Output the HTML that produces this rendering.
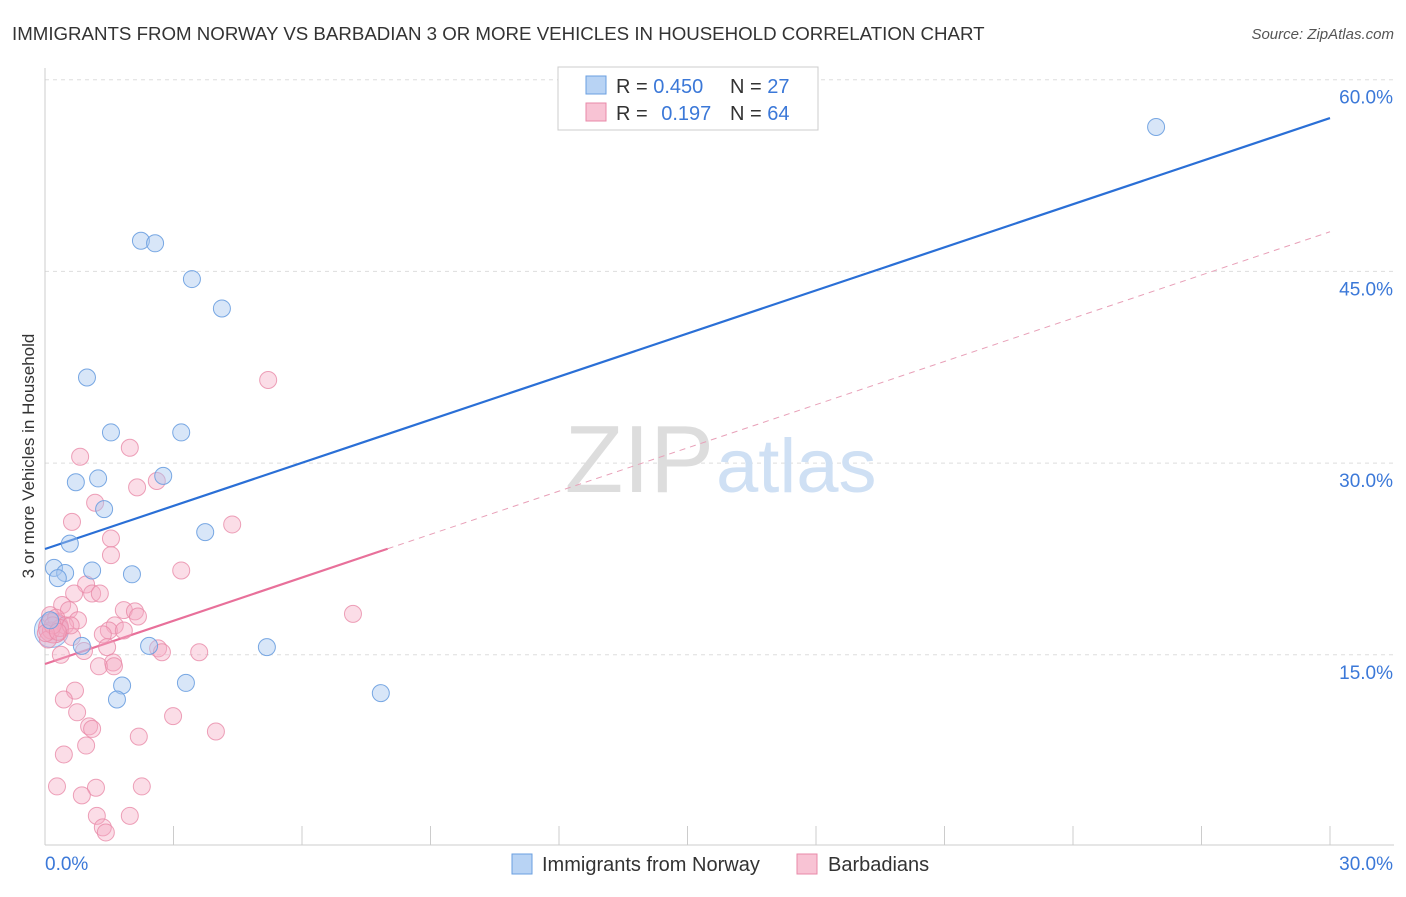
<!DOCTYPE html>
<html><head><meta charset="utf-8"><style>
body{margin:0;background:#fff;font-family:"Liberation Sans",sans-serif;}
svg text{font-family:"Liberation Sans",sans-serif;}
</style></head><body>
<svg width="1406" height="892" viewBox="0 0 1406 892">
<text x="12" y="40" font-size="18.7" fill="#333">IMMIGRANTS FROM NORWAY VS BARBADIAN 3 OR MORE VEHICLES IN HOUSEHOLD CORRELATION CHART</text>
<text x="1394" y="39" font-size="15" fill="#555" font-style="italic" text-anchor="end">Source: ZipAtlas.com</text>
<text transform="translate(34,456) rotate(-90)" font-size="17" fill="#333" text-anchor="middle">3 or more Vehicles in Household</text>
<g id="grid"></g>
<g id="ticks"></g>
<text x="714" y="492" font-size="96" fill="#ddd" text-anchor="end" font-family="Liberation Serif">ZIP</text>
<text x="716" y="492" font-size="76" fill="#cfe0f4">atlas</text>
<g id="lines"></g>
<g id="pts"></g>
<g>
<rect x="558" y="67" width="260" height="63" fill="#fff" stroke="#ccc"/>
<rect x="586" y="76" width="20" height="18" fill="#b8d3f4" stroke="#6a9fe0"/>
<rect x="586" y="103" width="20" height="18" fill="#f8c3d4" stroke="#e88aa8"/>
<text x="616" y="93" font-size="20" fill="#333">R = <tspan fill="#3b78d8">0.450</tspan></text>
<text x="730" y="93" font-size="20" fill="#333">N = <tspan fill="#3b78d8">27</tspan></text>
<text x="616" y="120" font-size="20" fill="#333">R = <tspan fill="#3b78d8" dx="8">0.197</tspan></text>
<text x="730" y="120" font-size="20" fill="#333">N = <tspan fill="#3b78d8">64</tspan></text>
</g>
<g>
<rect x="512" y="854" width="20" height="20" fill="#b8d3f4" stroke="#6a9fe0"/>
<text x="542" y="871" font-size="20" fill="#333">Immigrants from Norway</text>
<rect x="797" y="854" width="20" height="20" fill="#f8c3d4" stroke="#e88aa8"/>
<text x="828" y="871" font-size="20" fill="#333">Barbadians</text>
</g>
</svg>
<script>
const yTicks=[15,30,45,60];
const xTickLabels=["0.0%","30.0%"];
const blueX=[25.94,2.24,2.57,3.43,4.13,0.98,1.54,3.18,0.72,1.24,2.76,1.38,0.58,3.74,0.21,0.47,1.10,2.03,0.30,0.12,0.86,2.43,5.18,1.80,3.29,1.68,7.84];
const blueY=[56.3,47.4,47.2,44.4,42.1,36.7,32.4,32.4,28.5,28.8,29.0,26.4,23.7,24.6,21.8,21.4,21.6,21.3,21.0,17.7,15.7,15.7,15.6,12.6,12.8,11.5,12.0];
const pinkX=[5.21,0.82,1.98,2.61,2.15,1.17,0.63,4.37,1.54,1.54,3.18,0.96,0.68,1.10,1.28,0.40,0.56,1.84,2.10,2.17,7.19,0.12,0.26,0.77,0.47,1.63,0.14,0.35,1.49,1.84,1.35,0.63,0.07,1.45,2.64,2.73,0.91,3.60,0.37,1.59,1.26,1.61,0.70,0.44,0.75,2.99,1.03,1.10,3.99,2.19,0.96,0.44,0.28,1.19,2.26,0.86,1.21,1.98,1.35,1.42,0.18,0.02,0.60,0.30];
const pinkY=[36.5,30.5,31.2,28.6,28.1,26.9,25.4,25.2,24.1,22.8,21.6,20.5,19.8,19.8,19.8,18.9,18.5,18.5,18.4,18.0,18.2,18.1,17.9,17.7,17.3,17.3,16.9,17.1,16.9,16.9,16.6,16.4,16.2,15.6,15.5,15.2,15.3,15.2,15.0,14.4,14.1,14.1,12.2,11.5,10.5,10.2,9.4,9.2,9.0,8.6,7.9,7.2,4.7,4.6,4.7,4.0,2.4,2.4,1.5,1.1,17.3,16.7,17.3,16.8];
const blueTrend=[23.28,57.0];
const pinkTrend=[14.28,48.1];
const pinkSolidEnd=8.0;
const NS="http://www.w3.org/2000/svg";
const X=v=>45+v/30*1285, Y=v=>846.5-v*12.78;
function mk(t,a,p){const e=document.createElementNS(NS,t);for(const k in a)e.setAttribute(k,a[k]);p.appendChild(e);return e;}
const grid=document.getElementById('grid'),ticks=document.getElementById('ticks');
yTicks.forEach(t=>{const l=mk('line',{x1:45,x2:1394,y1:Y(t),y2:Y(t),stroke:'#ddd','stroke-dasharray':'4,4'},grid);


const tx=mk('text',{x:1393,y:Y(t)+24,'font-size':19,fill:'#3b78d8','text-anchor':'end'},grid);tx.textContent=t.toFixed(1)+'%';

});
mk('line',{x1:45,x2:45,y1:68,y2:845,stroke:'#ccc'},ticks);
mk('line',{x1:45,x2:1394,y1:845,y2:845,stroke:'#ccc'},ticks);
for(let i=0;i<=10;i++){const t=mk('line',{x1:X(i*3),x2:X(i*3),y1:826,y2:845,stroke:'#ccc'},ticks);

}
[[0,'start'],[30,'end']].forEach((d,i)=>{const tx=mk('text',{x:i?1393:45,y:870,'font-size':19,fill:'#3b78d8','text-anchor':d[1]},ticks);tx.textContent=xTickLabels[i];

});
const pts=document.getElementById('pts'),lines=document.getElementById('lines');
const b1=mk('circle',{cx:X(0.15),cy:Y(16.9),r:17,fill:'rgba(168,200,240,0.4)',stroke:'#8fb4e8'},pts);


const b2=mk('circle',{cx:X(0.2),cy:Y(17.1),r:15,fill:'rgba(240,150,180,0.45)',stroke:'#e88aa8'},pts);


pinkX.forEach((v,i)=>{const c=mk('circle',{cx:X(v),cy:Y(pinkY[i]),r:8.5,fill:'rgba(244,170,196,0.4)',stroke:'rgba(232,138,168,0.8)'},pts);

});
blueX.forEach((v,i)=>{const c=mk('circle',{cx:X(v),cy:Y(blueY[i]),r:8.5,fill:'rgba(168,200,240,0.45)',stroke:'rgba(106,159,224,0.9)'},pts);

});
const pAt=x=>pinkTrend[0]+(pinkTrend[1]-pinkTrend[0])*x/30;
const bl=mk('line',{x1:X(0),y1:Y(blueTrend[0]),x2:X(30),y2:Y(blueTrend[1]),stroke:'#2a6fd6','stroke-width':2.2},lines);


const ps=mk('line',{x1:X(0),y1:Y(pAt(0)),x2:X(pinkSolidEnd),y2:Y(pAt(pinkSolidEnd)),stroke:'#e8709a','stroke-width':2.2},lines);


const pd=mk('line',{x1:X(pinkSolidEnd),y1:Y(pAt(pinkSolidEnd)),x2:X(30),y2:Y(pAt(30)),stroke:'#e8a0b8','stroke-width':1,'stroke-dasharray':'6,5'},lines);


</script>
</body></html>
